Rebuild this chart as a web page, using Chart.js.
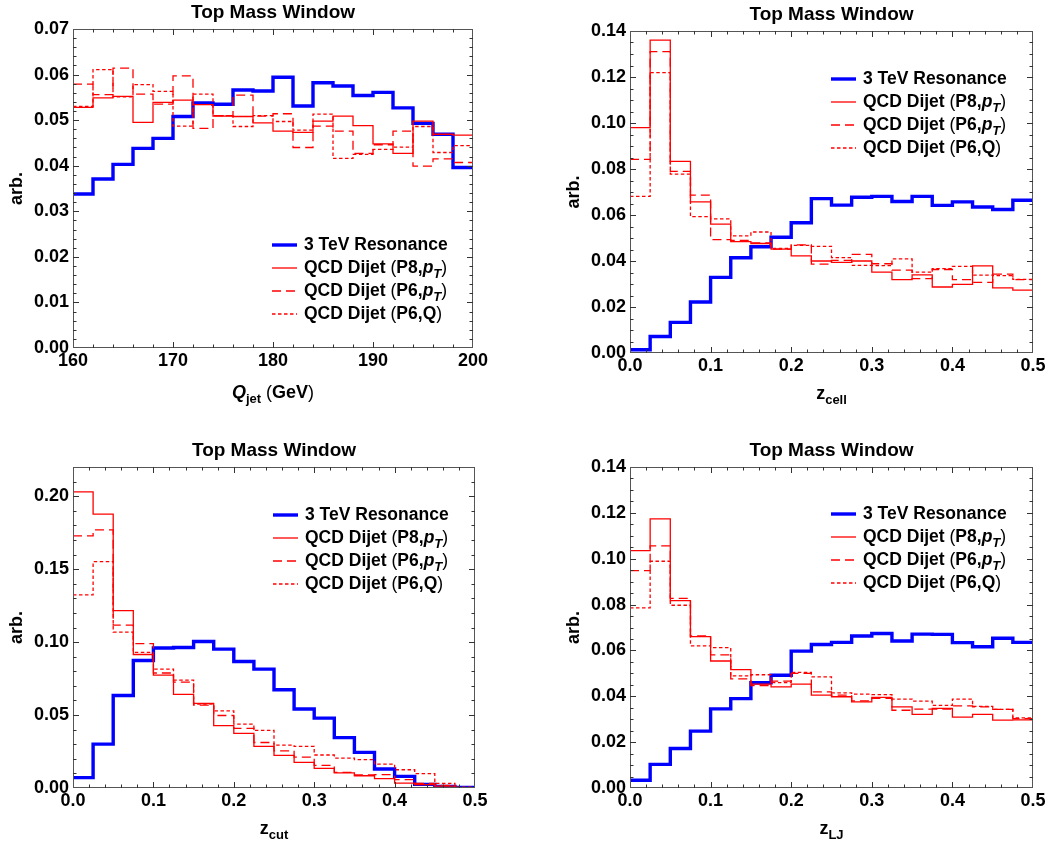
<!DOCTYPE html>
<html>
<head>
<meta charset="utf-8">
<title>Top Mass Window</title>
<script src="https://cdn.jsdelivr.net/npm/chart.js@4.4.1/dist/chart.umd.min.js"></script>
<style>
  html, body { margin: 0; padding: 0; background: #fff; }
  #wrap { position: relative; width: 1051px; height: 846px; }
  #wrap canvas { position: absolute; }
</style>
</head>
<body>
<div id="wrap">
  <canvas id="qjet" width="525" height="423" style="left:0;top:0"></canvas>
  <canvas id="zcell" width="526" height="423" style="left:525px;top:0"></canvas>
  <canvas id="zcut" width="525" height="423" style="left:0;top:423px"></canvas>
  <canvas id="zlj" width="526" height="423" style="left:525px;top:423px"></canvas>
</div>
<script>
// ================= DATA =================
// each array = 20 histogram bins, left to right

// Q_jet (GeV), 160..200
const qjetRange = [160, 200];
const qjetRes   = [0.0338, 0.0371, 0.0403, 0.0438, 0.0460, 0.0508, 0.0538, 0.0535, 0.0566, 0.0564, 0.0594, 0.0531, 0.0582, 0.0575, 0.0554, 0.0561, 0.0527, 0.0493, 0.0469, 0.0396];
const qjetP8pt  = [0.0528, 0.0549, 0.0552, 0.0495, 0.0539, 0.0544, 0.0534, 0.0509, 0.0508, 0.0494, 0.0476, 0.0473, 0.0498, 0.0509, 0.0488, 0.0448, 0.0427, 0.0498, 0.0469, 0.0467];
const qjetP6pt  = [0.0579, 0.0556, 0.0614, 0.0557, 0.0535, 0.0597, 0.0482, 0.0510, 0.0555, 0.0509, 0.0514, 0.0440, 0.0487, 0.0476, 0.0427, 0.0446, 0.0476, 0.0399, 0.0415, 0.0407];
const qjetP6Q   = [0.0530, 0.0611, 0.0551, 0.0578, 0.0563, 0.0487, 0.0557, 0.0510, 0.0486, 0.0510, 0.0497, 0.0478, 0.0513, 0.0416, 0.0425, 0.0436, 0.0441, 0.0486, 0.0429, 0.0444];
const qjetXTicks = [160, 170, 180, 190, 200];
const qjetYTicks = [0, 0.01, 0.02, 0.03, 0.04, 0.05, 0.06, 0.07];

// z_cell, 0..0.5
const zRange = [0, 0.5];
const zcellRes  = [0.0014, 0.0072, 0.0133, 0.0222, 0.0329, 0.0414, 0.0462, 0.0503, 0.0566, 0.0671, 0.0643, 0.0677, 0.0681, 0.0659, 0.0681, 0.0642, 0.0657, 0.0635, 0.0624, 0.0664];
const zcellP8pt = [0.0980, 0.1360, 0.0833, 0.0657, 0.0560, 0.0484, 0.0476, 0.0452, 0.0422, 0.0400, 0.0394, 0.0400, 0.0352, 0.0319, 0.0340, 0.0287, 0.0298, 0.0379, 0.0283, 0.0273];
const zcellP6pt = [0.0842, 0.1310, 0.0790, 0.0686, 0.0493, 0.0490, 0.0479, 0.0452, 0.0470, 0.0386, 0.0403, 0.0429, 0.0388, 0.0360, 0.0323, 0.0363, 0.0319, 0.0307, 0.0343, 0.0319];
const zcellP6Q  = [0.0681, 0.1219, 0.0778, 0.0593, 0.0583, 0.0509, 0.0526, 0.0455, 0.0468, 0.0464, 0.0415, 0.0381, 0.0380, 0.0409, 0.0352, 0.0367, 0.0377, 0.0339, 0.0336, 0.0320];
const zcellYTicks = [0, 0.02, 0.04, 0.06, 0.08, 0.10, 0.12, 0.14];

// z_cut, 0..0.5
const zcutRes  = [0.0071, 0.0301, 0.0634, 0.0874, 0.0959, 0.0963, 0.1004, 0.0952, 0.0867, 0.0815, 0.0673, 0.0541, 0.0479, 0.0345, 0.0244, 0.0130, 0.0080, 0.0025, 0.0011, 0.0003];
const zcutP8pt = [0.2029, 0.1877, 0.1216, 0.0915, 0.0774, 0.0641, 0.0580, 0.0427, 0.0374, 0.0285, 0.0223, 0.0175, 0.0134, 0.0103, 0.0084, 0.0064, 0.0034, 0.0023, 0.0013, 0.0003];
const zcutP6pt = [0.1728, 0.1769, 0.1116, 0.0990, 0.0788, 0.0726, 0.0568, 0.0497, 0.0408, 0.0312, 0.0255, 0.0212, 0.0155, 0.0107, 0.0089, 0.0091, 0.0057, 0.0032, 0.0018, 0.0003];
const zcutP6Q  = [0.1324, 0.1552, 0.1068, 0.0929, 0.0815, 0.0740, 0.0575, 0.0529, 0.0438, 0.0395, 0.0294, 0.0285, 0.0226, 0.0205, 0.0194, 0.0164, 0.0125, 0.0098, 0.0032, 0.0005];
const zcutYTicks = [0, 0.05, 0.10, 0.15, 0.20];

// z_LJ, 0..0.5
const zljRes  = [0.0034, 0.0103, 0.0172, 0.0248, 0.0345, 0.0390, 0.0459, 0.0492, 0.0597, 0.0626, 0.0635, 0.0663, 0.0674, 0.0641, 0.0671, 0.0670, 0.0634, 0.0616, 0.0653, 0.0635];
const zljP8pt = [0.1035, 0.1174, 0.0817, 0.0660, 0.0554, 0.0516, 0.0453, 0.0441, 0.0453, 0.0405, 0.0398, 0.0376, 0.0395, 0.0354, 0.0321, 0.0347, 0.0309, 0.0321, 0.0296, 0.0297];
const zljP6pt = [0.0948, 0.1056, 0.0827, 0.0663, 0.0581, 0.0476, 0.0447, 0.0466, 0.0500, 0.0419, 0.0405, 0.0380, 0.0391, 0.0339, 0.0344, 0.0344, 0.0358, 0.0354, 0.0343, 0.0303];
const zljP6Q  = [0.0786, 0.0989, 0.0797, 0.0620, 0.0612, 0.0489, 0.0494, 0.0460, 0.0504, 0.0485, 0.0415, 0.0409, 0.0407, 0.0388, 0.0379, 0.0360, 0.0388, 0.0356, 0.0343, 0.0306];
const zljYTicks = [0, 0.02, 0.04, 0.06, 0.08, 0.10, 0.12, 0.14];

const zXTicks = [0, 0.1, 0.2, 0.3, 0.4, 0.5];

// legend text: [text, flags] with i = italic, s = subscript, n = normal weight
const legendLabels = [
  [['3 TeV Resonance', '']],
  [['QCD Dijet ', ''], ['(', 'n'], ['P8,', ''], ['p', 'i'], ['T', 'is'], [')', 'n']],
  [['QCD Dijet ', ''], ['(', 'n'], ['P6,', ''], ['p', 'i'], ['T', 'is'], [')', 'n']],
  [['QCD Dijet ', ''], ['(', 'n'], ['P6,Q', ''], [')', 'n']]
];

// ================= STYLE =================
const FONT = '"Liberation Sans", Arial, Helvetica, sans-serif';
const lineStyles = [
  { color: '#0000ff', width: 3.4, dash: [] },
  { color: '#ff0000', width: 1.3, dash: [] },
  { color: '#ff0000', width: 1.3, dash: [9, 5] },
  { color: '#ff0000', width: 1.3, dash: [3.5, 2.5] }
];

// ================= HELPERS =================
// left edge of each bin + closing point at the upper edge
function steps(range, vals) {
  const w = (range[1] - range[0]) / vals.length;
  const pts = vals.map((v, i) => ({ x: range[0] + i * w, y: v }));
  pts.push({ x: range[1], y: vals[vals.length - 1] });
  return pts;
}

function fontFor(f, size) {
  const sz = f.includes('s') ? Math.round(size * 0.72) : size;
  return (f.includes('i') ? 'italic ' : '') + (f.includes('n') ? 'normal ' : 'bold ') + sz + 'px ' + FONT;
}

function drawRich(ctx, segs, x, y, size, align) {
  let total = 0;
  segs.forEach(([t, f]) => { ctx.font = fontFor(f, size); total += ctx.measureText(t).width; });
  let cx = align === 'center' ? x - total / 2 : x;
  ctx.textAlign = 'left';
  ctx.textBaseline = 'alphabetic';
  segs.forEach(([t, f]) => {
    ctx.font = fontFor(f, size);
    ctx.fillText(t, cx, y + (f.includes('s') ? size * 0.3 : 0));
    cx += ctx.measureText(t).width;
  });
}

// ================= FRAME / TITLES / LEGEND =================
const framePlugin = {
  id: 'frame',
  afterDatasetsDraw(chart, args, o) {
    const ctx = chart.ctx;
    const a = chart.chartArea;
    const xs = chart.scales.x, ys = chart.scales.y;
    ctx.save();

    // box
    ctx.strokeStyle = '#555';
    ctx.lineWidth = 1;
    ctx.setLineDash([]);
    ctx.strokeRect(a.left + 0.5, a.top + 0.5, a.right - a.left - 1, a.bottom - a.top - 1);

    // inward ticks on all four sides
    ctx.strokeStyle = '#333';
    const ticks = (scale, minor, major, horiz) => {
      const n = Math.round((scale.max - scale.min) / minor);
      for (let k = 1; k < n; k++) {
        const v = scale.min + k * minor;
        const isMajor = Math.abs(v / major - Math.round(v / major)) < 1e-6;
        const len = isMajor ? 6 : 3.5;
        const p = Math.round(scale.getPixelForValue(v)) + 0.5;
        ctx.beginPath();
        if (horiz) {
          ctx.moveTo(p, a.bottom); ctx.lineTo(p, a.bottom - len);
          ctx.moveTo(p, a.top); ctx.lineTo(p, a.top + len);
        } else {
          ctx.moveTo(a.left, p); ctx.lineTo(a.left + len, p);
          ctx.moveTo(a.right, p); ctx.lineTo(a.right - len, p);
        }
        ctx.stroke();
      }
    };
    ticks(xs, o.xMinor, o.xMajor, true);
    ticks(ys, o.yMinor, o.yMajor, false);

    // titles
    ctx.fillStyle = '#000';
    const cx = (a.left + a.right) / 2;
    drawRich(ctx, [['Top Mass Window', '']], cx, a.top - 11, 19, 'center');
    drawRich(ctx, o.xTitle, cx, a.bottom + o.xTitleOffset, 18, 'center');
    ctx.save();
    ctx.translate(a.left - 51, (a.top + a.bottom) / 2);
    ctx.rotate(-Math.PI / 2);
    drawRich(ctx, [['arb.', '']], 0, 0, 18, 'center');
    ctx.restore();

    // legend
    const lg = o.legend;
    chart.data.datasets.forEach((ds, i) => {
      const y = lg.y + i * 23;
      ctx.strokeStyle = ds.borderColor;
      ctx.lineWidth = ds.borderWidth;
      ctx.setLineDash(ds.borderDash);
      ctx.beginPath();
      ctx.moveTo(lg.x, y + 1);
      ctx.lineTo(lg.x + 25, y + 1);
      ctx.stroke();
      ctx.setLineDash([]);
      drawRich(ctx, legendLabels[i], lg.x + 32, y + 6, 17.5, 'left');
    });
    ctx.restore();
  }
};

// ================= PANEL =================
function makePanel(id, p) {
  const canvas = document.getElementById(id);
  const W = canvas.width, H = canvas.height;
  const tickFont = { family: FONT, weight: 'bold', size: 18 };

  const datasets = p.series.map((vals, i) => ({
    data: steps(p.xRange, vals),
    borderColor: lineStyles[i].color,
    borderWidth: lineStyles[i].width,
    borderDash: lineStyles[i].dash,
    stepped: 'before',
    pointRadius: 0,
    fill: false,
    order: i === 0 ? 1 : 0
  }));

  return new Chart(canvas, {
    type: 'line',
    data: { datasets },
    options: {
      responsive: false,
      animation: false,
      events: [],
      layout: { padding: { left: 0, top: p.area.top, right: W - p.area.right, bottom: 0 } },
      plugins: {
        legend: { display: false },
        tooltip: { enabled: false },
        frame: {
          xMinor: p.xMinor, xMajor: p.xMajor, yMinor: p.yMinor, yMajor: p.yMajor,
          xTitle: p.xTitle, xTitleOffset: p.xTitleOffset, legend: p.legend
        }
      },
      scales: {
        x: {
          type: 'linear',
          min: p.xRange[0], max: p.xRange[1],
          grid: { display: false, drawTicks: false },
          border: { display: false },
          afterBuildTicks: s => { s.ticks = p.xTicks.map(v => ({ value: v })); },
          afterFit: s => { s.height = H - p.area.bottom; },
          ticks: {
            font: tickFont, color: '#000', padding: 2,
            maxRotation: 0, autoSkip: false,
            callback: v => v.toFixed(p.xDec)
          }
        },
        y: {
          type: 'linear',
          min: 0, max: p.yMax,
          grid: { display: false, drawTicks: false },
          border: { display: false },
          afterBuildTicks: s => { s.ticks = p.yTicks.map(v => ({ value: v })); },
          afterFit: s => { s.width = p.area.left; },
          ticks: {
            font: tickFont, color: '#000', padding: 4,
            autoSkip: false,
            callback: v => v.toFixed(2)
          }
        }
      }
    },
    plugins: [framePlugin]
  });
}

makePanel('qjet', {
  series: [qjetRes, qjetP8pt, qjetP6pt, qjetP6Q],
  xRange: qjetRange, xTicks: qjetXTicks, xDec: 0, xMinor: 2, xMajor: 10,
  yMax: 0.07, yTicks: qjetYTicks, yMinor: 0.002, yMajor: 0.01,
  area: { left: 73, top: 29, right: 473, bottom: 348 },
  xTitle: [['Q', 'i'], ['jet', 's'], [' ', ''], ['(', 'n'], ['GeV', ''], [')', 'n']],
  xTitleOffset: 50,
  legend: { x: 272, y: 244 }
});

makePanel('zcell', {
  series: [zcellRes, zcellP8pt, zcellP6pt, zcellP6Q],
  xRange: zRange, xTicks: zXTicks, xDec: 1, xMinor: 0.02, xMajor: 0.1,
  yMax: 0.14, yTicks: zcellYTicks, yMinor: 0.005, yMajor: 0.02,
  area: { left: 105, top: 31, right: 508, bottom: 353 },
  xTitle: [['z', ''], ['cell', 's']],
  xTitleOffset: 46,
  legend: { x: 306, y: 78 }
});

makePanel('zcut', {
  series: [zcutRes, zcutP8pt, zcutP6pt, zcutP6Q],
  xRange: zRange, xTicks: zXTicks, xDec: 1, xMinor: 0.02, xMajor: 0.1,
  yMax: 0.22, yTicks: zcutYTicks, yMinor: 0.01, yMajor: 0.05,
  area: { left: 73, top: 44, right: 475, bottom: 365 },
  xTitle: [['z', ''], ['cut', 's']],
  xTitleOffset: 46,
  legend: { x: 273, y: 91 }
});

makePanel('zlj', {
  series: [zljRes, zljP8pt, zljP6pt, zljP6Q],
  xRange: zRange, xTicks: zXTicks, xDec: 1, xMinor: 0.02, xMajor: 0.1,
  yMax: 0.14, yTicks: zljYTicks, yMinor: 0.005, yMajor: 0.02,
  area: { left: 105, top: 44, right: 508, bottom: 365 },
  xTitle: [['z', ''], ['LJ', 's']],
  xTitleOffset: 46,
  legend: { x: 306, y: 90 }
});
</script>
</body>
</html>
